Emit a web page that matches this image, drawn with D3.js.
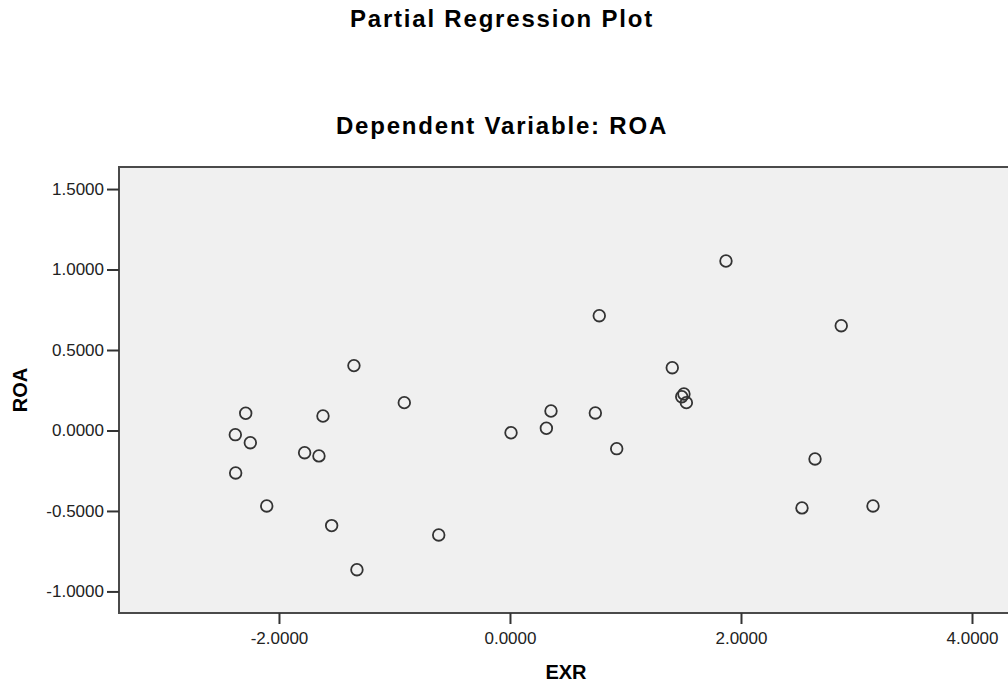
<!DOCTYPE html>
<html>
<head>
<meta charset="utf-8">
<script src="https://cdn.jsdelivr.net/npm/d3@7"></script>
<style>
  body { margin: 0; background: #fff; }
  text { font-family: "Liberation Sans", Arial, sans-serif; }
</style>
</head>
<body>
<div id="chart-container"></div>
<script>
const width = 1008,
  height = 687;

// partial regression residuals
const exr = [
  -2.288, -2.378, -2.248, -2.375, -2.106,
  -1.351, -0.915, -1.619, -1.778, -1.654, -1.544, -0.617, -1.325,
  1.870, 0.773, 1.405, 1.506, 1.487, 1.527,
  0.355, 0.739, 0.009, 0.315, 0.924,
  2.868, 2.641, 2.528, 3.143,
];
const roa = [
  0.107, -0.026, -0.076, -0.264, -0.469,
  0.403, 0.173, 0.090, -0.138, -0.158, -0.591, -0.649, -0.865,
  1.053, 0.713, 0.390, 0.227, 0.210, 0.173,
  0.121, 0.109, -0.014, 0.014, -0.113,
  0.651, -0.177, -0.481, -0.469,
];

const xTicks = [-2, 0, 2, 4];
const yTicks = [-1, -0.5, 0, 0.5, 1, 1.5];

const title = 'Partial Regression Plot';
const subtitle = 'Dependent Variable: ROA';
const xTitle = 'EXR';
const yTitle = 'ROA';

// plot box (right side runs off the picture, like the original export)
const boxLeft = 119, boxRight = 1013, boxTop = 167, boxBottom = 613;

const x = d3.scaleLinear().domain([-3.385, 4.355]).range([boxLeft, boxRight]);
const y = d3.scaleLinear().domain([-1.134, 1.637]).range([boxBottom, boxTop]);

const fmt = (d) => d.toFixed(4); // keeps a plain hyphen for negatives

const svg = d3
  .select('#chart-container')
  .append('svg')
  .attr('width', width)
  .attr('height', height);

// titles
svg.append('text')
  .attr('x', 502).attr('y', 27)
  .attr('text-anchor', 'middle')
  .attr('font-size', 24).attr('font-weight', 'bold')
  .attr('letter-spacing', 1.8)
  .text(title);

svg.append('text')
  .attr('x', 502).attr('y', 134)
  .attr('text-anchor', 'middle')
  .attr('font-size', 24).attr('font-weight', 'bold')
  .attr('letter-spacing', 1.8)
  .text(subtitle);

// grey plot area
svg.append('rect')
  .attr('x', boxLeft).attr('y', boxTop)
  .attr('width', boxRight - boxLeft).attr('height', boxBottom - boxTop)
  .attr('fill', '#f0f0f0');

// frame: top, left and bottom edges
svg.append('path')
  .attr('d', `M${boxRight},${boxTop}H${boxLeft}V${boxBottom}H${boxRight}`)
  .attr('fill', 'none')
  .attr('stroke', '#4a4a4a')
  .attr('stroke-width', 2);

const yAxis = svg.append('g')
  .attr('transform', `translate(${boxLeft},0)`)
  .call(d3.axisLeft(y).tickValues(yTicks).tickFormat(fmt).tickSize(12).tickPadding(3));

const xAxis = svg.append('g')
  .attr('transform', `translate(0,${boxBottom})`)
  .call(d3.axisBottom(x).tickValues(xTicks).tickFormat(fmt).tickSize(11).tickPadding(8));

[yAxis, xAxis].forEach((g) => {
  g.select('.domain').remove();
  g.selectAll('.tick line').attr('stroke', '#333').attr('stroke-width', 2);
  g.selectAll('.tick text')
    .attr('font-size', 17)
    .attr('fill', '#222')
    .attr('font-family', '"Liberation Sans", Arial, sans-serif');
});

// axis titles
svg.append('text')
  .attr('x', 566).attr('y', 679)
  .attr('text-anchor', 'middle')
  .attr('font-size', 20).attr('font-weight', 'bold')
  .text(xTitle);

svg.append('text')
  .attr('transform', 'translate(27,390) rotate(-90)')
  .attr('text-anchor', 'middle')
  .attr('font-size', 20).attr('font-weight', 'bold')
  .text(yTitle);

// points
svg.append('g')
  .selectAll('circle')
  .data(exr.map((d, i) => ({ x: d, y: roa[i] })))
  .join('circle')
  .attr('cx', (d) => x(d.x))
  .attr('cy', (d) => y(d.y))
  .attr('r', 5.8)
  .attr('fill', 'none')
  .attr('stroke', '#333')
  .attr('stroke-width', 1.8);
</script>
</body>
</html>
